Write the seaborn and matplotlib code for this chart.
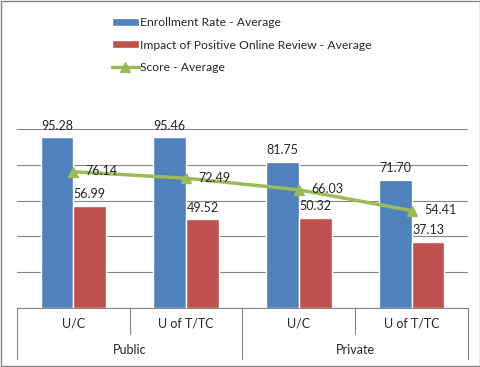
import matplotlib
matplotlib.use("Agg")
import matplotlib.pyplot as plt
from matplotlib.lines import Line2D
from matplotlib.patches import Patch, Rectangle
import numpy as np
import pandas as pd
import seaborn as sns

# chart data
sectors = ["Public", "Public", "Private", "Private"]
schools = ["U/C", "U of T/TC", "U/C", "U of T/TC"]
enrollment = [95.28, 95.46, 81.75, 71.70]
impact = [56.99, 49.52, 50.32, 37.13]
score = [76.14, 72.49, 66.03, 54.41]

bar_names = ["Enrollment Rate - Average", "Impact of Positive Online Review - Average"]
line_name = "Score - Average"

BLUE = "#4F81BD"
RED = "#C0504D"
GREEN = "#9BBB59"
GREY = "#868686"

keys = [f"{s} {c}" for s, c in zip(sectors, schools)]
df = pd.DataFrame({"key": keys, bar_names[0]: enrollment, bar_names[1]: impact})
long_df = df.melt(id_vars="key", var_name="series", value_name="value")

sns.set_style("white")
plt.rcParams["font.family"] = ["Lato", "DejaVu Sans"]
plt.rcParams["font.size"] = 9

fig = plt.figure(figsize=(4.81, 3.67), dpi=100)
ax = fig.add_axes([17 / 481, 59 / 367, 451 / 481, 179 / 367])

sns.barplot(data=long_df, x="key", y="value", hue="series", order=keys,
            hue_order=bar_names, palette=[BLUE, RED], width=0.58,
            saturation=1, legend=False, ax=ax)
for cont in ax.containers:
    ax.bar_label(cont, fmt="%.2f", padding=4, fontsize=9)

x = np.arange(len(score))
ax.plot(x, score, color=GREEN, lw=2.5, marker="^", ms=7.5, zorder=5)
for i, v in enumerate(score):
    ax.annotate(f"{v:.2f}", (i, v), xytext=(9, 0.5), textcoords="offset points",
                ha="left", va="center", fontsize=9, zorder=6)

ax.set_xlim(-0.5, 3.5)
ax.set_ylim(0, 100)
ax.set_yticks([0, 20, 40, 60, 80, 100])
ax.yaxis.grid(True, color=GREY, lw=0.8)
ax.set_axisbelow(True)
ax.tick_params(axis="y", left=False, labelleft=False)
ax.set_xticks(x)
ax.set_xticklabels(schools)
ax.tick_params(axis="x", length=0, pad=7)
ax.set_xlabel("")
ax.set_ylabel("")
for side in ["left", "right", "top"]:
    ax.spines[side].set_visible(False)
ax.spines["bottom"].set_color(GREY)
ax.spines["bottom"].set_linewidth(0.8)

# two-level category axis
xt = ax.get_xaxis_transform()
for xv, depth in [(-0.5, -0.285), (0.5, -0.145), (1.5, -0.285), (2.5, -0.145), (3.5, -0.285)]:
    ax.plot([xv, xv], [0, depth], transform=xt, color=GREY, lw=0.8, clip_on=False)
for xv, name in [(0.5, "Public"), (2.5, "Private")]:
    ax.text(xv, -0.235, name, transform=xt, ha="center", va="center", fontsize=9)

handles = [Patch(facecolor=BLUE, label=bar_names[0]),
           Patch(facecolor=RED, label=bar_names[1]),
           Line2D([], [], color=GREEN, lw=2.5, marker="^", ms=7.5, label=line_name)]
fig.legend(handles=handles, loc="upper left", bbox_to_anchor=(106 / 481, 1 - 11 / 367),
           frameon=False, fontsize=8.7, borderpad=0, handlelength=2.2, handleheight=0.65,
           handletextpad=0.15, labelspacing=0.95)

fig.add_artist(Rectangle((0.002, 0.003), 0.995, 0.994, transform=fig.transFigure,
                         fill=False, edgecolor=GREY, lw=1))

fig.savefig("out.png", dpi=100)
